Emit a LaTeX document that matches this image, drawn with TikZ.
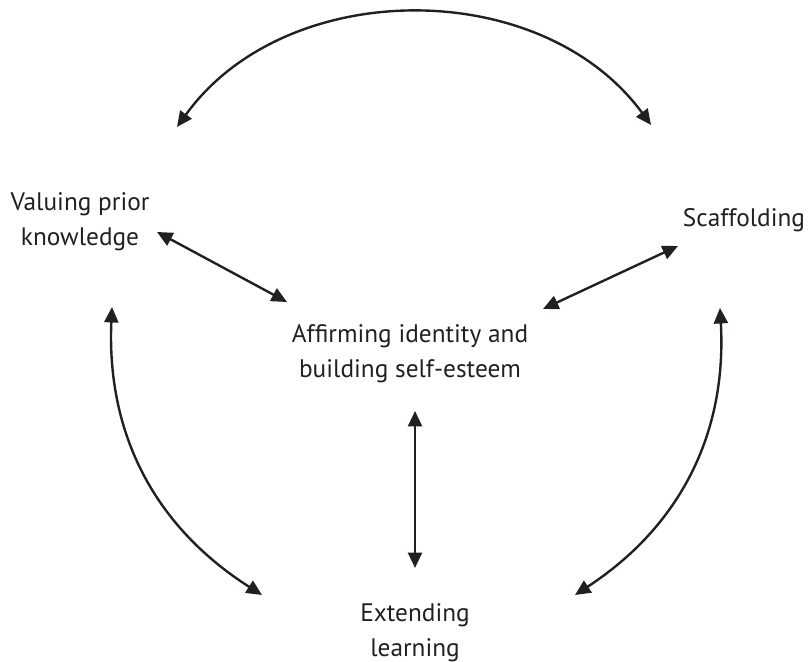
\documentclass[tikz,border=0pt]{standalone}
\usepackage{fontspec}
\setmainfont{PT Sans}
\usetikzlibrary{arrows.meta}
\definecolor{ink}{HTML}{231F20}
\tikzset{
% Text labels and two-headed connectors
label node/.style={align=center,text=ink,inner sep=0,font=\fontsize{18}{25}\selectfont},
link/.style={draw=ink,line width=1.7pt,{Triangle[length=11pt,width=10pt]}-{Triangle[length=11pt,width=10pt]}}
}

\begin{document}
\begin{tikzpicture}
      \useasboundingbox (0,0) rectangle (20.3,16.55);
      % The labels
      \node(affirm)[label node] at (10.25,7.7) {Affirming identity and\\building self-esteem};
      \node(prior)[label node] at (2.0,11.0) {Valuing prior\\knowledge};
      \node(scaff)[label node] at (18.6,11.04) {Scaffolding};
      \node(extend)[label node] at (10.375,0.725) {Extending\\learning};
      % Ends of the connectors
      \coordinate (top l) at (4.425,13.375);
      \coordinate (top r) at (16.275,13.425);
      \coordinate (left t) at (2.8,8.875);
      \coordinate (left b) at (6.55,1.675);
      \coordinate (right t) at (18.0,8.85);
      \coordinate (right b) at (14.375,1.675);
      \coordinate (prior a) at (3.925,10.75);
      \coordinate (prior b) at (7.175,9.0);
      \coordinate (scaff a) at (16.95,10.4);
      \coordinate (scaff b) at (13.575,8.825);
      \coordinate (mid t) at (10.375,6.275);
      \coordinate (mid b) at (10.375,2.35);
      % Outer arcs
      \draw[link] (top l) to[bend left=54] (top r);
      \draw[link] (left t) to[bend right=30] (left b);
      \draw[link] (right t) to[bend left=30] (right b);
      % Spokes to the centre
      \draw[link] (prior a) -- (prior b);
      \draw[link] (scaff a) -- (scaff b);
      \draw[link] (mid t) -- (mid b);
\end{tikzpicture}
\end{document}
